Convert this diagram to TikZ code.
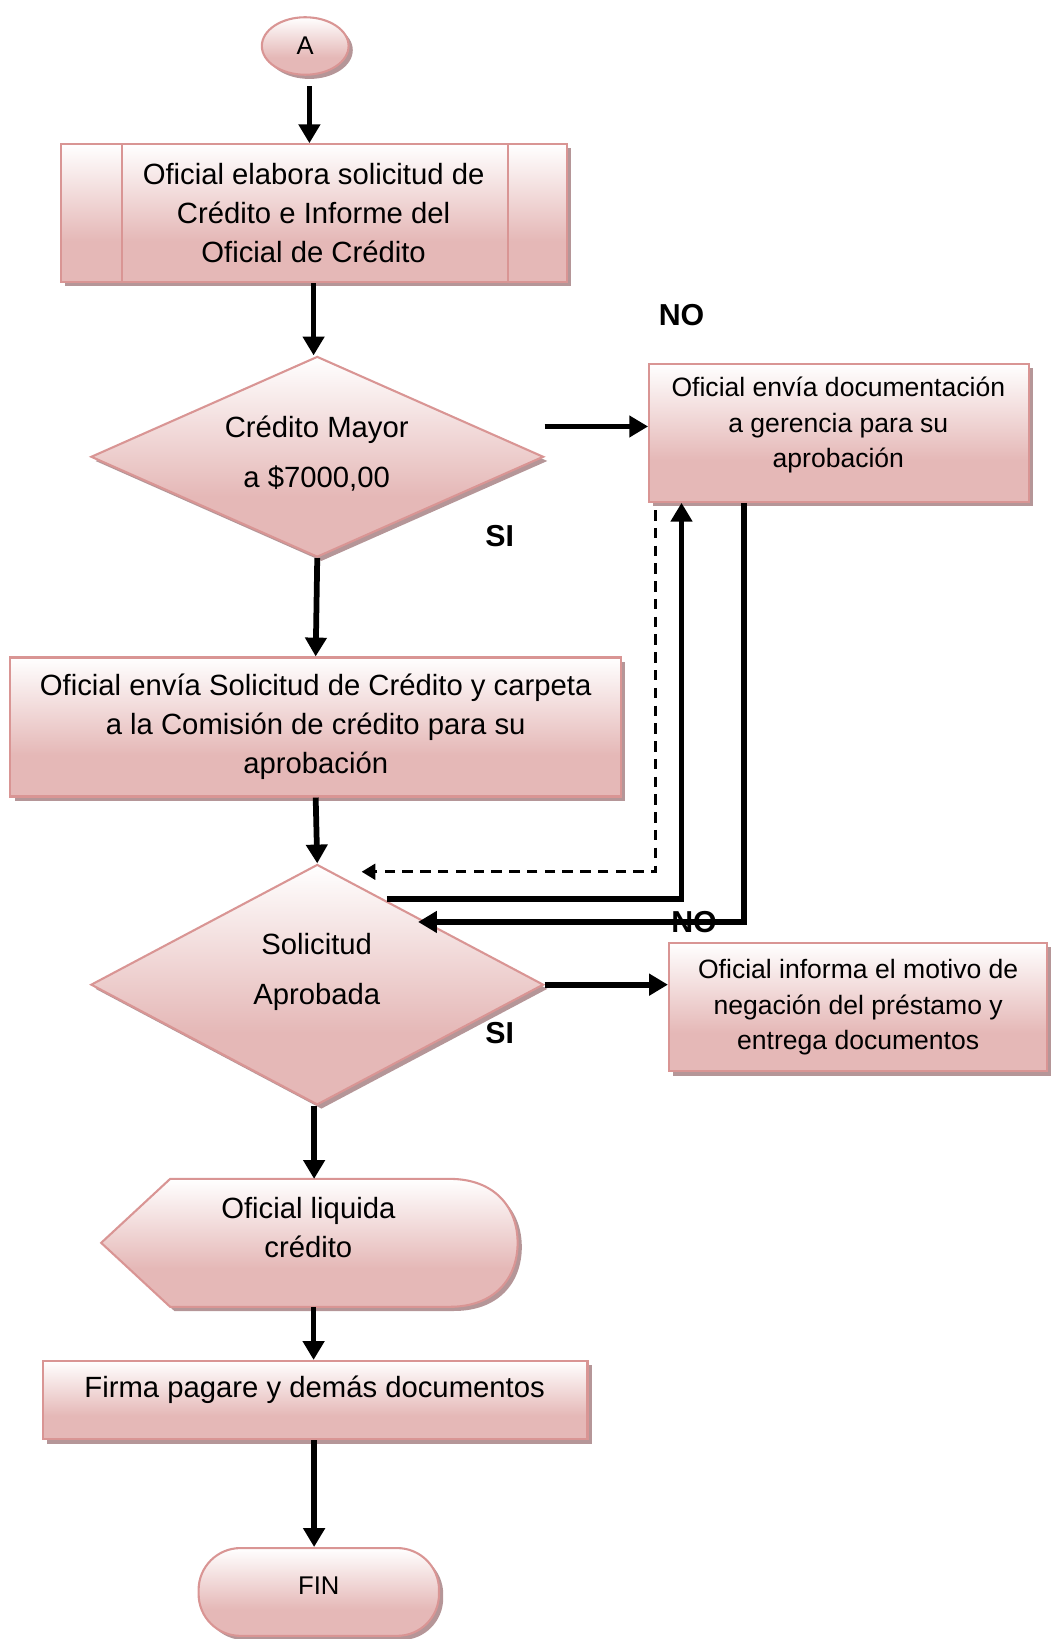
\documentclass[tikz,border=0pt]{standalone}
\usepackage{fontspec}
\setmainfont{Liberation Sans}
\usetikzlibrary{shapes.geometric,shadows,arrows.meta}

\definecolor{edgepink}{HTML}{D99594}
\definecolor{fillpink}{HTML}{E5B8B7}
\definecolor{shadowpink}{HTML}{B59698}

% white at the top fading to pink in the lower part
\pgfdeclareverticalshading{pinkfade}{100bp}{color(0bp)=(fillpink); color(25bp)=(fillpink); color(40bp)=(fillpink); color(75bp)=(white); color(100bp)=(white)}

\tikzset{
  flowbox/.style={draw=edgepink, line width=2pt, shading=pinkfade,
    drop shadow={shadow xshift=4pt, shadow yshift=-4pt, fill=shadowpink, opacity=1},
    inner sep=0pt},
  bigtext/.style={font=\fontsize{28}{37.5}\selectfont, align=center},
  midtext/.style={font=\fontsize{25.4}{34}\selectfont, align=center},
  dtext/.style={font=\fontsize{28}{48}\selectfont, align=center},
  smalltext/.style={font=\fontsize{24.5}{30}\selectfont},
  tag/.style={font=\bfseries\fontsize{29}{34}\selectfont},
  conn/.style={line width=5.5pt, -{Triangle[length=18pt,width=20pt]}},
  dconn/.style={line width=2.5pt, dash pattern=on 10pt off 7pt, -{Triangle[length=13pt,width=15pt]}},
}

\begin{document}
\begin{tikzpicture}[x=1pt, y=-1pt]
\useasboundingbox (0,0) rectangle (1005,1568);

% connector A
\node[flowbox, ellipse, minimum width=83pt, minimum height=55pt, smalltext] (A) at (292,44) {A};

% predefined process
\node[flowbox, rectangle, minimum width=484pt, minimum height=132pt, bigtext] (b1) at (300,204)
  {Oficial elabora solicitud de\\Crédito e Informe del\\Oficial de Crédito};
\draw[edgepink, line width=2pt] ([xshift=60pt]b1.north west) -- ([xshift=60pt]b1.south west);
\draw[edgepink, line width=2pt] ([xshift=-57pt]b1.north east) -- ([xshift=-57pt]b1.south east);

% first decision
\node[flowbox, diamond, aspect=2.26, minimum width=433pt, minimum height=192pt] (d1) at (303.5,437) {};
\node[dtext] (d1t) at (303,434) {Crédito Mayor\\a \$7000,00};

% approval by management
\node[flowbox, rectangle, minimum width=363pt, minimum height=132pt] (b2) at (802.5,414) {};
\node[midtext] (b2t) at (802,407) {Oficial envía documentación\\a gerencia para su\\aprobación};

% committee approval
\node[flowbox, rectangle, minimum width=584pt, minimum height=133pt, bigtext] (b3) at (302,695.5)
  {Oficial envía Solicitud de Crédito y carpeta\\a la Comisión de crédito para su\\aprobación};

% second decision
\node[flowbox, diamond, aspect=1.88, minimum width=433pt, minimum height=230pt] (d2) at (303.5,942) {};
\node[dtext] (d2t) at (303,930) {Solicitud\\Aprobada};

% rejection
\node[flowbox, rectangle, minimum width=362pt, minimum height=123pt, midtext] (b4) at (821,963.5)
  {Oficial informa el motivo de\\negación del préstamo y\\entrega documentos};

% display shape
\node[minimum width=398pt, minimum height=122pt, inner sep=0pt] (disp) at (296,1189) {};
\path[flowbox] (disp.west) -- ([xshift=66pt]disp.north west) -- ([xshift=-65pt]disp.north east)
  .. controls ([xshift=-22pt]disp.north east) and ([yshift=34pt]disp.east) .. (disp.east)
  .. controls ([yshift=-34pt]disp.east) and ([xshift=-22pt]disp.south east) .. ([xshift=-65pt]disp.south east)
  -- ([xshift=66pt]disp.south west) -- cycle;
\node[bigtext] (dispt) at (295,1174) {Oficial liquida\\crédito};

% signing
\node[flowbox, rectangle, minimum width=521pt, minimum height=75pt] (b5) at (301.5,1339.5) {};
\node[bigtext] (b5t) at (301,1330) {Firma pagare y demás documentos};

% terminal
\node[flowbox, rectangle, rounded corners=40pt, minimum width=230pt, minimum height=84pt] (fin) at (305,1523) {};
\node[smalltext] (fint) at (305,1517) {FIN};

% branch labels
\node[tag] (no1) at (652,301) {NO};
\node[tag] (si1) at (478,513) {SI};
\node[tag] (si2) at (478,988) {SI};

% free ends of the return lines
\coordinate (dtip) at (346,834);
\coordinate (ustart) at (370,860);
\coordinate (ntip) at (400,882);

% main flow
\draw[conn, shorten <=10pt] ([xshift=4pt]A.south) -- ([xshift=4pt]A.south |- b1.north);
\draw[conn] (b1.south) -- (b1.south |- d1.north);
\draw[conn] ([yshift=6pt]b2.west -| d1.east) -- ([yshift=6pt]b2.west);
\draw[conn] (d1.south) -- (b3.north);
\draw[conn] (b3.south) -- (d2.north);
\draw[conn] (d2.east) -- (d2.east -| b4.west);
\draw[conn] ([xshift=-3pt]d2.south) -- ([xshift=-3pt]d2.south |- disp.north);
\draw[conn] ([xshift=4pt]disp.south) -- ([xshift=4pt]disp.south |- b5.north);
\draw[conn] ([xshift=-1pt]b5.south) -- ([xshift=-1pt]b5.south |- fin.north);

% return paths
\draw[dconn, shorten <=7pt] ([xshift=7pt]b2.south west) |- (dtip);
\draw[conn] (ustart) -| ([xshift=32pt]b2.south west);
\draw[conn] ([xshift=92pt]b2.south west) |- (ntip);

\node[tag] (no2) at (664,882) {NO};
\end{tikzpicture}
\end{document}
